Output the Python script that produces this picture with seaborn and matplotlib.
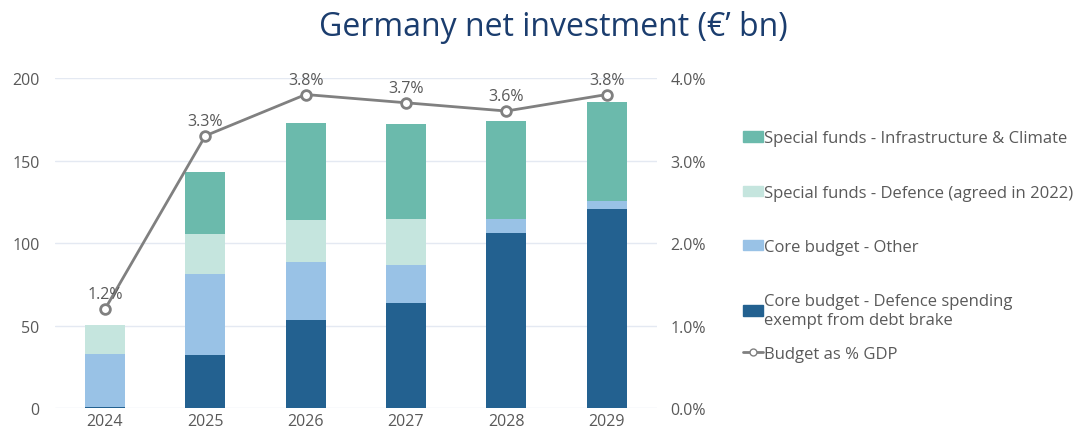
import numpy as np
import pandas as pd
import seaborn as sns
import matplotlib.pyplot as plt
from matplotlib.patches import Patch
from matplotlib.lines import Line2D
import matplotlib.ticker as mticker

years = ["2024", "2025", "2026", "2027", "2028", "2029"]
core_defence = [0.7, 32.0, 53.4, 63.6, 106.1, 120.9]
core_other = [32.0, 49.2, 35.3, 23.2, 8.5, 4.4]
special_defence = [17.5, 24.3, 25.5, 27.8, 0.0, 0.0]
special_infra = [0.0, 37.4, 58.3, 57.3, 59.3, 60.1]
gdp_pct = [1.2, 3.3, 3.8, 3.7, 3.6, 3.8]

series_names = [
    "Core budget - Defence spending\nexempt from debt brake",
    "Core budget - Other",
    "Special funds - Defence (agreed in 2022)",
    "Special funds - Infrastructure & Climate",
]
colors = ["#236190", "#99C2E6", "#C5E5DE", "#6BBAAC"]
line_name = "Budget as % GDP"
TEXT = "#595959"

df = pd.DataFrame({
    "year": years,
    "s0": core_defence,
    "s1": core_other,
    "s2": special_defence,
    "s3": special_infra,
})
cum = df[["s0", "s1", "s2", "s3"]].cumsum(axis=1)

sns.set_theme(style="white")
plt.rcParams["font.family"] = ["Open Sans", "DejaVu Sans"]

fig = plt.figure(figsize=(10.75, 4.39), dpi=100)
ax = fig.add_axes([0.051, 0.068, 0.56, 0.752])

# stacked bars: draw cumulative totals from top segment down
for i in [3, 2, 1, 0]:
    sns.barplot(x=df["year"], y=cum[f"s{i}"], color=colors[i], width=0.4,
                saturation=1, ax=ax, edgecolor="none")

ax.set_ylim(0, 200)
ax.set_xlim(-0.5, 5.5)
ax.set_yticks([0, 50, 100, 150, 200])
ax.grid(axis="y", color="#E4E9F2", linewidth=1)
ax.set_axisbelow(True)
ax.set_xlabel("")
ax.set_ylabel("")
for s in ax.spines.values():
    s.set_visible(False)
ax.tick_params(axis="both", length=0, labelsize=11.5, labelcolor=TEXT)
ax.tick_params(axis="y", pad=11)

ax2 = ax.twinx()
ax2.set_ylim(0, 4.0)
ax2.set_yticks([0, 1, 2, 3, 4])
ax2.yaxis.set_major_formatter(mticker.StrMethodFormatter("{x:.1f}%"))
for s in ax2.spines.values():
    s.set_visible(False)
ax2.tick_params(axis="y", length=0, labelsize=11.5, labelcolor=TEXT, pad=10)
ax2.grid(False)

sns.lineplot(x=np.arange(len(years)), y=gdp_pct, ax=ax2, color="#808080",
             linewidth=2, marker="o", markersize=7, markerfacecolor="white",
             markeredgecolor="#808080", markeredgewidth=2)
for xi, v in enumerate(gdp_pct):
    ax2.annotate(f"{v:.1f}%", (xi, v), xytext=(0, 5), textcoords="offset points",
                 ha="center", va="bottom", fontsize=11.5, color=TEXT)
ax2.set_xlim(-0.5, 5.5)

bar_handles = [Patch(color=colors[3]), Patch(color=colors[2]),
               Patch(color=colors[1]), Patch(color=colors[0])]
bar_labels = [series_names[3], series_names[2], series_names[1], series_names[0]]
fig.legend(bar_handles, bar_labels, loc="upper left",
           bbox_to_anchor=(0.677, 0.735), frameon=False, fontsize=12,
           labelcolor=TEXT, handlelength=1.2, handleheight=0.6,
           handletextpad=0.1, labelspacing=2.3)
line_handle = Line2D([0], [0], color="#808080", linewidth=2, marker="o",
                     markersize=5, markerfacecolor="white", markeredgecolor="#808080")
fig.legend([line_handle], [line_name], loc="center left",
           bbox_to_anchor=(0.677, 1 - 355 / 439), frameon=False, fontsize=12,
           labelcolor=TEXT, handlelength=1.2, handletextpad=0.1)

fig.suptitle("Germany net investment (€’ bn)", x=0.515, y=0.975, fontsize=23,
             color="#1B3D6E")

fig.savefig("out.png", dpi=100)
